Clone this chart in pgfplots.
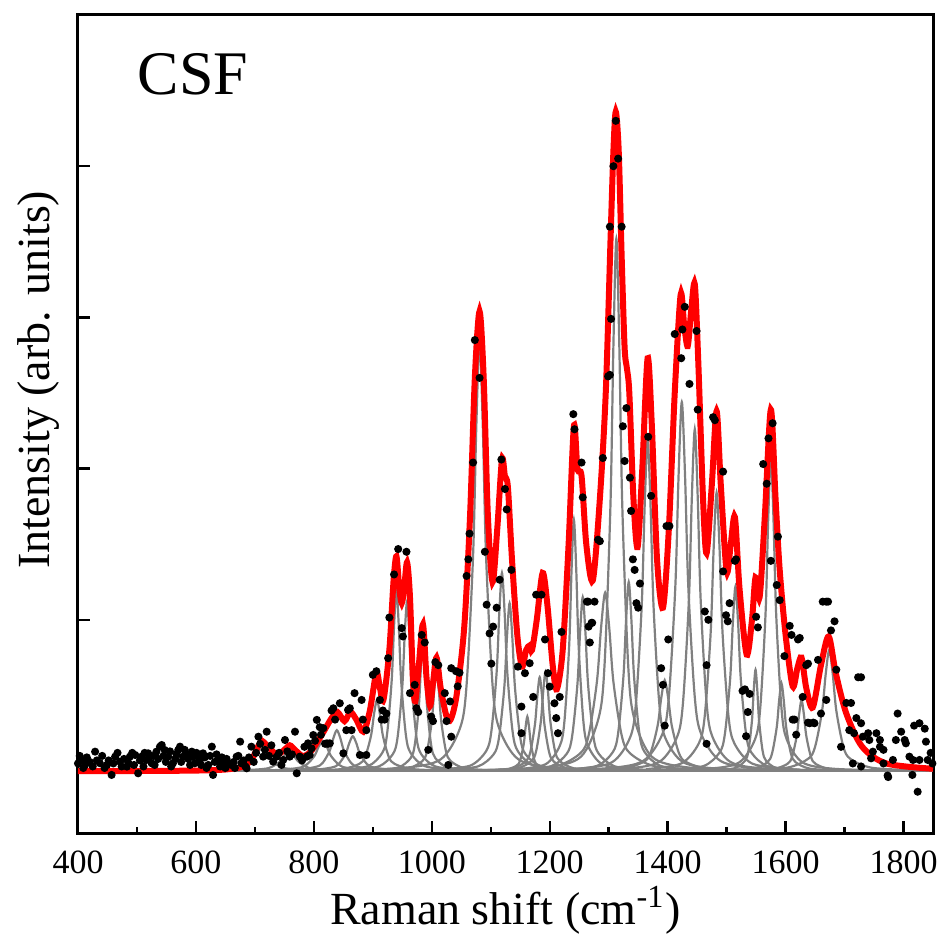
\documentclass[border=0pt]{standalone}
\usepackage{fontspec}
\setmainfont{Liberation Serif}
\usepackage{pgfplots}
\pgfplotsset{compat=1.18}
\definecolor{fitgray}{RGB}{128,128,128}
\definecolor{fitred}{RGB}{255,0,0}

\pgfplotsset{
  peak/.style={fitgray, line width=0.55pt, smooth, tension=0.5, no marks},
}

\begin{document}
\begin{tikzpicture}
\begin{axis}[
    scale only axis, width=213.75pt, height=204.5pt,
    xmin=400, xmax=1850, ymin=-0.41, ymax=5.0,
    xtick={400,600,...,1800}, minor x tick num=1,
    ytick={1,2,3,4}, yticklabels={},
    xtick pos=left, ytick pos=left, tick align=inside,
    major tick length=3pt, minor tick length=1.6pt,
    axis line style={line width=0.75pt},
    tick style={black, line width=0.6pt},
    tick label style={font=\fontsize{8.5}{10}\selectfont},
    /pgf/number format/assume math mode=true,
    /pgf/number format/1000 sep={},
    xticklabel style={yshift=-1pt},
    xlabel={Raman shift (cm\textsuperscript{-1})},
    ylabel={Intensity (arb. units)},
    label style={font=\fontsize{11.5}{13}\selectfont},
    xlabel style={at={(axis description cs:0.5,-0.112)}, anchor=base},
    ylabel style={at={(axis description cs:-0.021,0.554)}, anchor=south, inner sep=0pt},
]
% fitted baseline
\addplot[fitgray, line width=0.55pt] coordinates {(680,0) (1850,0)};
% Lorentzian components
\addplot[peak] coordinates {(532,0.001)(622,0.004)(667,0.015)(682,0.03)(697,0.075)(704.5,0.12)(712,0.15)(719.5,0.12)(727,0.075)(742,0.03)(757,0.015)(802,0.004)(892,0.001)};
\addplot[peak] coordinates {(578,0.001)(668,0.0035)(713,0.013)(728,0.026)(743,0.065)(750.5,0.104)(758,0.13)(765.5,0.104)(773,0.065)(788,0.026)(803,0.013)(848,0.0035)(938,0.001)};
\addplot[peak] coordinates {(647,0.0014)(731,0.0054)(773,0.02)(787,0.04)(801,0.1)(808,0.16)(815,0.2)(822,0.16)(829,0.1)(843,0.04)(857,0.02)(899,0.0054)(983,0.0014)};
\addplot[peak] coordinates {(695,0.0019)(767,0.0073)(803,0.027)(815,0.054)(827,0.135)(833,0.216)(839,0.27)(845,0.216)(851,0.135)(863,0.054)(875,0.027)(911,0.0073)(983,0.0019)};
\addplot[peak] coordinates {(722,0.0016)(794,0.0062)(830,0.023)(842,0.046)(854,0.115)(860,0.184)(866,0.23)(872,0.184)(878,0.115)(890,0.046)(902,0.023)(938,0.0062)(1010,0.0016)};
\addplot[peak] coordinates {(787,0.0032)(847,0.0127)(877,0.047)(887,0.094)(897,0.235)(902,0.376)(907,0.47)(912,0.376)(917,0.235)(927,0.094)(937,0.047)(967,0.0127)(1027,0.0032)};
\addplot[peak] coordinates {(844,0.0083)(892,0.0324)(916,0.12)(924,0.24)(932,0.6)(936,0.96)(940,1.2)(944,0.96)(948,0.6)(956,0.24)(964,0.12)(988,0.0324)(1036,0.0083)};
\addplot[peak] coordinates {(862,0.0077)(910,0.0302)(934,0.112)(942,0.224)(950,0.56)(954,0.896)(958,1.12)(962,0.896)(966,0.56)(974,0.224)(982,0.112)(1006,0.0302)(1054,0.0077)};
\addplot[peak] coordinates {(901,0.0059)(943,0.023)(964,0.085)(971,0.17)(978,0.425)(981.5,0.68)(985,0.85)(988.5,0.68)(992,0.425)(999,0.17)(1006,0.085)(1027,0.023)(1069,0.0059)};
\addplot[peak] coordinates {(912,0.0046)(960,0.0178)(984,0.066)(992,0.132)(1000,0.33)(1004,0.528)(1008,0.66)(1012,0.528)(1016,0.33)(1024,0.132)(1032,0.066)(1056,0.0178)(1104,0.0046)};
\addplot[peak] coordinates {(817,0.005)(949,0.0197)(1015,0.077)(1048,0.285)(1059,0.57)(1070,1.425)(1075.5,2.28)(1081,2.85)(1086.5,2.28)(1092,1.425)(1103,0.57)(1114,0.285)(1147,0.077)(1213,0.0197)(1345,0.005)};
\addplot[peak] coordinates {(1011,0.009)(1065,0.0354)(1092,0.131)(1101,0.262)(1110,0.655)(1114.5,1.048)(1119,1.31)(1123.5,1.048)(1128,0.655)(1137,0.262)(1146,0.131)(1173,0.0354)(1227,0.009)};
\addplot[peak] coordinates {(1024,0.0077)(1078,0.03)(1105,0.111)(1114,0.222)(1123,0.555)(1127.5,0.888)(1132,1.11)(1136.5,0.888)(1141,0.555)(1150,0.222)(1159,0.111)(1186,0.03)(1240,0.0077)};
\addplot[peak] coordinates {(1090,0.0025)(1126,0.0097)(1144,0.036)(1150,0.072)(1156,0.18)(1159,0.288)(1162,0.36)(1165,0.288)(1168,0.18)(1174,0.072)(1180,0.036)(1198,0.0097)(1234,0.0025)};
\addplot[peak] coordinates {(1087,0.0043)(1135,0.0167)(1159,0.062)(1167,0.124)(1175,0.31)(1179,0.496)(1183,0.62)(1187,0.496)(1191,0.31)(1199,0.124)(1207,0.062)(1231,0.0167)(1279,0.0043)};
\addplot[peak] coordinates {(1097,0.0046)(1145,0.0178)(1169,0.066)(1177,0.132)(1185,0.33)(1189,0.528)(1193,0.66)(1197,0.528)(1201,0.33)(1209,0.132)(1217,0.066)(1241,0.0178)(1289,0.0046)};
\addplot[peak] coordinates {(1145,0.0115)(1193,0.0448)(1217,0.166)(1225,0.332)(1233,0.83)(1237,1.328)(1241,1.66)(1245,1.328)(1249,0.83)(1257,0.332)(1265,0.166)(1289,0.0448)(1337,0.0115)};
\addplot[peak] coordinates {(1148,0.0079)(1202,0.031)(1229,0.115)(1238,0.23)(1247,0.575)(1251.5,0.92)(1256,1.15)(1260.5,0.92)(1265,0.575)(1274,0.23)(1283,0.115)(1310,0.031)(1364,0.0079)};
\addplot[peak] coordinates {(1126,0.0081)(1210,0.0319)(1252,0.118)(1266,0.236)(1280,0.59)(1287,0.944)(1294,1.18)(1301,0.944)(1308,0.59)(1322,0.236)(1336,0.118)(1378,0.0319)(1462,0.0081)};
\addplot[peak] coordinates {(1073,0.006)(1193,0.0243)(1253,0.095)(1283,0.352)(1293,0.704)(1303,1.76)(1308,2.816)(1313,3.52)(1318,2.816)(1323,1.76)(1333,0.704)(1343,0.352)(1373,0.095)(1433,0.0243)(1553,0.006)};
\addplot[peak] coordinates {(1226,0.0086)(1280,0.0338)(1307,0.125)(1316,0.25)(1325,0.625)(1329.5,1.0)(1334,1.25)(1338.5,1.0)(1343,0.625)(1352,0.25)(1361,0.125)(1388,0.0338)(1442,0.0086)};
\addplot[peak] coordinates {(1126,0.004)(1246,0.0151)(1306,0.0591)(1336,0.219)(1346,0.438)(1356,1.095)(1361,1.752)(1366,2.19)(1371,1.752)(1376,1.095)(1386,0.438)(1396,0.219)(1426,0.0591)(1486,0.0151)(1606,0.004)};
\addplot[peak] coordinates {(1251,0.0041)(1323,0.0162)(1359,0.06)(1371,0.12)(1383,0.3)(1389,0.48)(1395,0.6)(1401,0.48)(1407,0.3)(1419,0.12)(1431,0.06)(1467,0.0162)(1539,0.0041)};
\addplot[peak] coordinates {(1160,0.004)(1292,0.0168)(1358,0.0659)(1391,0.244)(1402,0.488)(1413,1.22)(1418.5,1.952)(1424,2.44)(1429.5,1.952)(1435,1.22)(1446,0.488)(1457,0.244)(1490,0.0659)(1556,0.0168)(1688,0.004)};
\addplot[peak] coordinates {(1206,0.004)(1326,0.0156)(1386,0.061)(1416,0.226)(1426,0.452)(1436,1.13)(1441,1.808)(1446,2.26)(1451,1.808)(1456,1.13)(1466,0.452)(1476,0.226)(1506,0.061)(1566,0.0156)(1686,0.004)};
\addplot[peak] coordinates {(1363,0.0127)(1423,0.0497)(1453,0.184)(1463,0.368)(1473,0.92)(1478,1.472)(1483,1.84)(1488,1.472)(1493,0.92)(1503,0.368)(1513,0.184)(1543,0.0497)(1603,0.0127)};
\addplot[peak] coordinates {(1407,0.0084)(1461,0.0329)(1488,0.122)(1497,0.244)(1506,0.61)(1510.5,0.976)(1515,1.22)(1519.5,0.976)(1524,0.61)(1533,0.244)(1542,0.122)(1569,0.0329)(1623,0.0084)};
\addplot[peak] coordinates {(1477,0.0046)(1513,0.0181)(1531,0.067)(1537,0.134)(1543,0.335)(1546,0.536)(1549,0.67)(1552,0.536)(1555,0.335)(1561,0.134)(1567,0.067)(1585,0.0181)(1621,0.0046)};
\addplot[peak] coordinates {(1359,0.0036)(1467,0.0144)(1521,0.0562)(1548,0.208)(1557,0.416)(1566,1.04)(1570.5,1.664)(1575,2.08)(1579.5,1.664)(1584,1.04)(1593,0.416)(1602,0.208)(1629,0.0562)(1683,0.0144)(1791,0.0036)};
\addplot[peak] coordinates {(1497,0.004)(1545,0.0157)(1569,0.058)(1577,0.116)(1585,0.29)(1589,0.464)(1593,0.58)(1597,0.464)(1601,0.29)(1609,0.116)(1617,0.058)(1641,0.0157)(1689,0.004)};
\addplot[peak] coordinates {(1531,0.0032)(1579,0.0127)(1603,0.047)(1611,0.094)(1619,0.235)(1623,0.376)(1627,0.47)(1631,0.376)(1635,0.235)(1643,0.094)(1651,0.047)(1675,0.0127)(1723,0.0032)};
\addplot[peak] coordinates {(1530,0.0055)(1602,0.0216)(1638,0.08)(1650,0.16)(1662,0.4)(1668,0.64)(1674,0.8)(1680,0.64)(1686,0.4)(1698,0.16)(1710,0.08)(1746,0.0216)(1818,0.0055)};
% cumulative fit
\addplot[fitred, line width=1.5pt, smooth, tension=0.5, no marks] coordinates {
(400,0.0)(500,0.0)(600,0.003)(650,0.01)(680,0.03)(695,0.08)(705,0.16)(712,0.2)(720,0.17)(737,0.11)(750,0.14)(759,0.17)(768,0.14)(781,0.10)(795,0.13)(815,0.25)(830,0.35)(840,0.39)(852,0.33)(862,0.39)(872,0.34)(884,0.26)(895,0.4)(906,0.65)(912,0.55)(918,0.47)(928,0.8)(935,1.25)(940,1.42)(945,1.2)(949,1.11)(953,1.2)(958,1.38)(963,1.15)(968,0.6)(972,0.46)(978,0.7)(985,0.97)(991,0.62)(997,0.43)(1002,0.58)(1008,0.75)(1015,0.55)(1025,0.36)(1032,0.34)(1042,0.5)(1055,0.95)(1065,1.7)(1073,2.6)(1081,3.04)(1088,2.6)(1095,1.7)(1103,1.25)(1111,1.6)(1119,2.06)(1124,1.95)(1129,1.88)(1136,1.4)(1145,0.9)(1153,0.69)(1160,0.8)(1166,0.83)(1170,0.8)(1178,1.0)(1188,1.31)(1196,1.1)(1205,0.7)(1212,0.54)(1222,0.8)(1232,1.5)(1241,2.28)(1247,2.0)(1254,1.95)(1262,1.5)(1273,1.26)(1285,1.8)(1295,2.5)(1303,3.5)(1308,4.1)(1312,4.36)(1317,4.1)(1322,3.4)(1327,2.8)(1331,2.66)(1335,2.5)(1342,1.8)(1349,1.48)(1357,2.0)(1366,2.73)(1373,2.3)(1382,1.4)(1392,1.08)(1402,1.6)(1412,2.5)(1422,3.15)(1428,2.95)(1434,2.81)(1440,3.05)(1446,3.22)(1452,2.7)(1460,1.8)(1466,1.44)(1475,1.9)(1483,2.38)(1490,1.9)(1500,1.32)(1507,1.5)(1514,1.68)(1522,1.2)(1534,0.77)(1543,1.0)(1549,1.28)(1556,1.15)(1565,1.7)(1575,2.39)(1583,1.8)(1590,1.33)(1600,0.9)(1612,0.56)(1620,0.68)(1627,0.75)(1635,0.55)(1646,0.42)(1660,0.7)(1673,0.89)(1685,0.65)(1703,0.38)(1730,0.16)(1771,0.05)(1850,0.015)};
% measured spectrum
\addplot[only marks, mark=*, mark size=0.8pt, black] coordinates {
(400,0.05)(403,0.10)(406,0.073)(409,0.02)(412,0.04)(415,0.09)(420,0.06)(425,0.03)(429,0.128)(432,0.07)(437,0.052)(441,0.10)(445,0.02)(449,0.04)(452,0.07)(457,-0.026)(460,0.05)(463,0.095)(467,0.12)(471,0.062)(474,0.03)(478,0.08)(483,0.029)(486,0.05)(488,0.095)(492,0.12)(495,0.04)(497,0.106)(502,-0.015)(505,0.07)(508,0.095)(511,0.03)(513,0.12)(516,0.073)(519,0.117)(521,0.09)(525,0.051)(528,0.10)(530,0.04)(533,0.128)(536,0.08)(539,0.161)(542,0.172)(545,0.10)(547,0.139)(549,0.06)(553,0.095)(556,0.13)(558,0.03)(561,0.051)(565,0.08)(567,0.11)(570,0.139)(573,0.161)(575,0.06)(578,0.095)(581,0.14)(584,0.106)(587,0.08)(590,0.04)(593,0.128)(595,0.095)(598,0.051)(601,0.12)(604,0.095)(607,0.073)(609,0.04)(612,0.117)(615,0.09)(618,0.02)(621,0.04)(624,0.10)(627,0.161)(629,-0.026)(632,0.06)(635,0.11)(638,0.073)(641,0.03)(644,0.09)(646,0.051)(650,0.02)(652,0.08)(655,0.051)(660,0.04)(664,0.06)(666,0.02)(669,0.095)(672,0.10)(675,0.194)(677,0.051)(681,0.07)(684,0.03)(686,0.018)(690,0.09)(694,0.161)(698,0.06)(702,0.12)(706,0.227)(709,0.18)(714,0.095)(717,0.14)(720,0.26)(724,0.10)(728,0.17)(731,0.062)(737,0.095)(741,0.12)(745,0.04)(748,0.073)(751,0.205)(755,0.13)(759,0.095)(763,0.11)(768,0.26)(771,-0.015)(776,0.095)(780,0.07)(784,0.16)(788,0.095)(790,0.183)(793,0.106)(796,0.15)(799,0.238)(802,0.2)(805,0.338)(810,0.29)(812,0.24)(816,0.283)(819,0.18)(822,0.183)(824,0.18)(827,0.183)(830,0.40)(833,0.415)(836,0.34)(844,0.448)(850,0.117)(855,0.27)(858,0.404)(861,0.415)(864,0.27)(869,0.515)(878,0.106)(881,0.47)(883,0.34)(889,0.106)(889,0.27)(900,0.636)(906,0.66)(912,0.47)(915,0.34)(917,0.40)(920,0.34)(923,0.38)(926,0.746)(928,1.015)(936,1.3)(943,1.468)(949,0.945)(951,0.89)(957,1.45)(963,0.515)(971,0.57)(974,0.415)(977,0.39)(983,0.9)(988,0.85)(994,0.14)(999,0.36)(1002,0.33)(1006,0.72)(1011,0.7)(1022,0.515)(1025,0.33)(1028,0.04)(1031,0.46)(1033,0.68)(1033,0.227)(1041,0.66)(1044,0.56)(1047,0.65)(1059,1.29)(1062,1.40)(1064,1.57)(1070,2.04)(1073,2.85)(1081,2.60)
(1090,1.45)(1093,1.10)(1098,0.91)(1101,0.71)(1104,0.955)(1110,1.08)(1115,1.265)(1118,2.06)(1124,1.865)(1127,1.73)(1135,1.33)(1146,0.69)(1152,0.426)(1152,0.25)(1158,0.647)(1166,0.713)(1172,0.49)(1177,1.166)(1186,1.166)(1192,0.87)(1197,0.647)(1200,0.558)(1208,0.448)(1211,0.35)(1214,0.25)(1217,0.49)(1220,0.92)(1240,2.36)(1242,2.26)(1254,2.04)(1256,1.81)(1263,1.12)(1265,1.12)(1266,0.955)(1268,0.85)(1271,0.98)(1272,0.98)(1276,1.12)(1282,1.53)(1285,1.52)(1290,2.07)(1299,2.61)(1302,3.6)(1302,2.62)(1304,2.99)(1308,4.0)(1312,4.3)(1316,4.05)(1322,3.6)(1324,2.28)(1327,2.05)(1330,2.40)(1336,1.94)(1338,1.72)(1341,1.40)(1344,1.33)(1347,1.11)(1350,1.08)(1353,1.24)(1367,2.21)(1372,1.82)(1389,0.68)(1392,0.57)(1395,0.30)(1398,1.62)(1401,0.87)(1403,1.62)(1412,2.89)(1423,2.73)(1425,2.92)(1429,3.07)(1437,2.56)(1449,2.91)(1451,2.39)(1463,1.055)(1466,0.70)(1466,0.18)(1469,1.0)(1477,2.34)(1480,2.32)(1494,1.98)(1494,1.32)(1499,1.03)(1502,0.99)(1505,1.11)(1514,1.39)(1516,1.40)(1527,0.53)(1531,0.54)(1533,0.23)(1536,0.39)(1539,0.51)(1550,1.02)(1553,0.95)(1562,2.03)(1568,1.9)(1571,2.2)(1578,2.3)(1575,1.39)(1585,1.23)(1587,1.55)(1590,1.13)(1598,0.76)(1607,0.96)(1610,0.90)(1612,0.34)(1615,0.34)(1618,0.24)(1621,0.87)(1624,0.88)(1629,0.49)(1635,0.70)(1638,0.71)(1638,0.32)(1641,0.316)(1647,0.32)(1649,0.316)(1655,0.735)(1660,0.38)(1663,1.12)(1669,1.12)(1669,0.47)(1672,1.12)(1677,0.93)(1683,0.99)(1686,0.67)(1694,0.16)(1703,0.45)(1708,0.27)(1711,0.45)(1714,0.05)(1716,0.25)(1720,0.35)(1723,0.62)(1728,0.62)(1728,0.316)(1728,0.03)(1731,0.227)(1740,0.25)(1742,0.205)(1745,0.084)(1748,0.128)(1754,0.25)(1760,0.205)(1760,0.16)(1766,0.14)(1766,0.05)(1773,-0.03)(1774,-0.04)(1782,0.073)(1787,0.205)(1790,0.38)(1796,0.26)(1802,0.205)(1804,0.183)(1810,0.095)(1815,-0.026)(1816,0.073)(1818,0.30)(1824,-0.137)(1827,0.316)(1827,0.073)(1836,0.28)(1838,0.194)(1841,0.073)(1846,0.12)(1849,0.05)};
\node[font=\fontsize{15.5}{18}\selectfont] at (rel axis cs:0.1345,0.928) {CSF};
\end{axis}
\pgfresetboundingbox
\path (current axis.south west) ++(-19.5pt,-25pt) rectangle ++(235.5pt,233.25pt);
\end{tikzpicture}
\end{document}
